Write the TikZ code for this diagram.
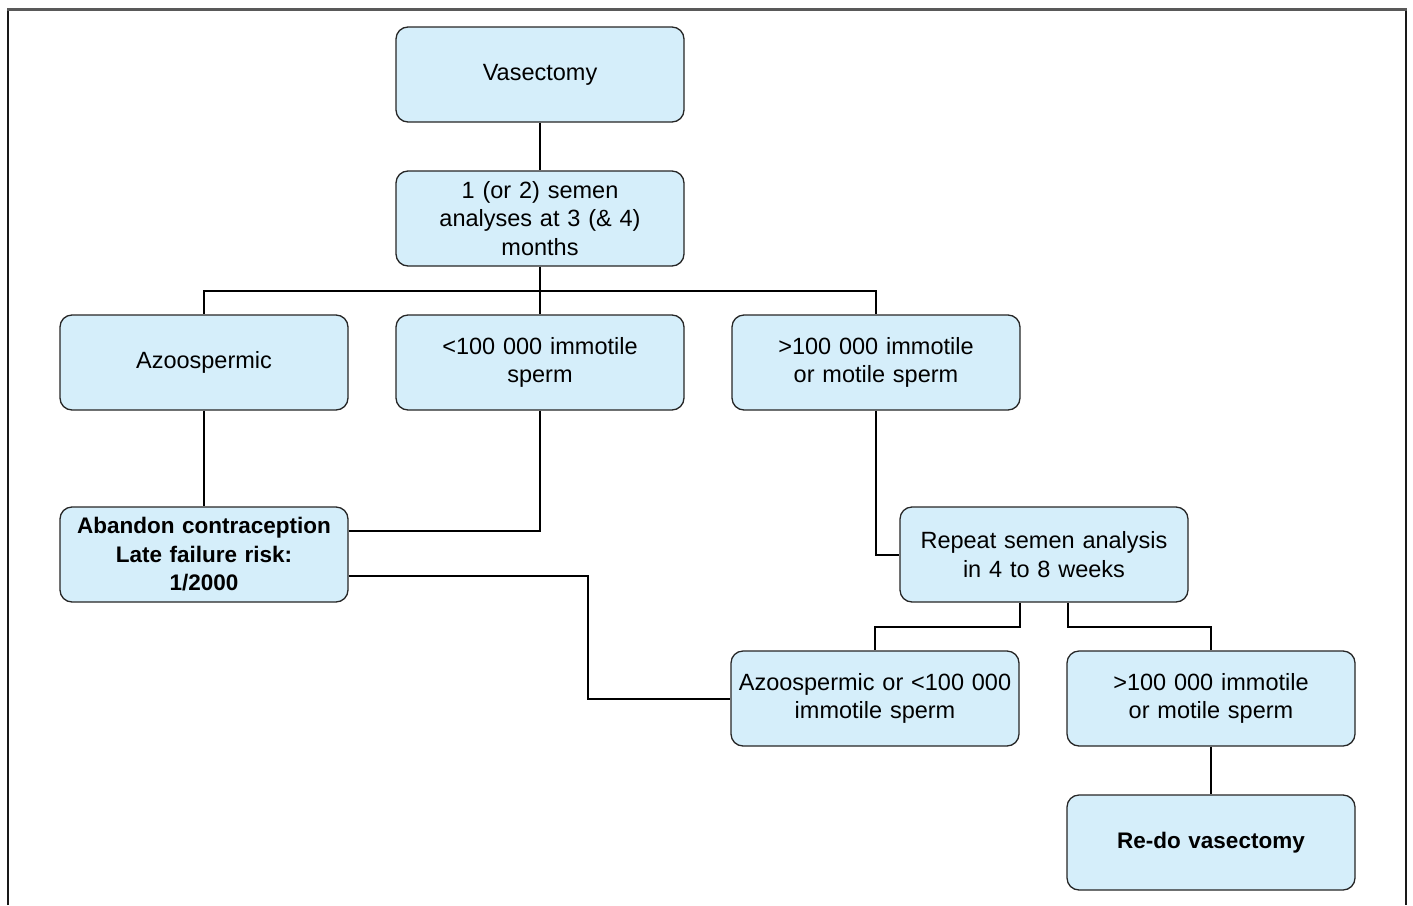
\documentclass[tikz,border=0pt]{standalone}
\usepackage{fontspec}
\setmainfont{Liberation Sans}
\definecolor{boxblue}{RGB}{213,238,250}
\tikzset{
  box/.style={draw=black!85, line width=1.3pt, fill=boxblue, rounded corners=12pt,
    minimum width=288pt, minimum height=95pt, inner sep=0pt, text width=284pt,
    align=center, font=\fontsize{23.5}{28.5}\selectfont},
  boldbox/.style={box, font=\fontsize{22.5}{28.5}\selectfont\bfseries},
  link/.style={line width=2pt, black}
}
\begin{document}
\begin{tikzpicture}[x=1pt,y=-1pt]
\useasboundingbox (0,0) rectangle (1413,905);
% frame
\draw[line width=2pt, black!90] (8,905) -- (8,9);
\draw[line width=2pt, black!90] (1406,9) -- (1406,905);
\draw[line width=3pt, black!65] (7,9) -- (1407,9);
% boxes
\node[box] (vas) at (540,74.5) {Vasectomy};
\node[box] (semen) at (540,218.5) {1 (or 2) semen\\analyses at 3 (\& 4)\\months};
\node[box] (azo) at (204,362.5) {Azoospermic};
\node[box] (low) at (540,362.5) {<100~000 immotile\\sperm};
\node[box] (high) at (876,362.5) {>100~000 immotile\\or motile sperm};
\node[boldbox] (aband) at (204,554.5) {Abandon contraception\\Late failure risk:\\1/2000};
\node[box] (rep) at (1044,554.5) {Repeat semen analysis\\in 4 to 8 weeks};
\node[box] (azolow) at (875,698.5) {Azoospermic or <100~000\\immotile sperm};
\node[box] (high2) at (1211,698.5) {>100~000 immotile\\or motile sperm};
\node[boldbox] (redo) at (1211,842.5) {Re-do vasectomy};
% links
\draw[link] (vas) -- (semen);
\draw[link] (semen) -- (low);
\draw[link] (semen.south) -- ++(0,24) coordinate (split);
\draw[link] (split) -| (azo.north);
\draw[link] (split) -| (high.north);
\draw[link] (azo) -- (aband);
\draw[link] (low.south) |- ([yshift=24pt]aband.east);
\draw[link] (high.south) |- (rep.west);
\draw[link] ([yshift=-21.5pt]aband.east) -- ++(239,0) |- (azolow.west);
\draw[link] ([xshift=-24pt]rep.south) -- ++(0,24) -| (azolow.north);
\draw[link] ([xshift=24pt]rep.south) -- ++(0,24) -| (high2.north);
\draw[link] (high2) -- (redo);
\end{tikzpicture}
\end{document}
